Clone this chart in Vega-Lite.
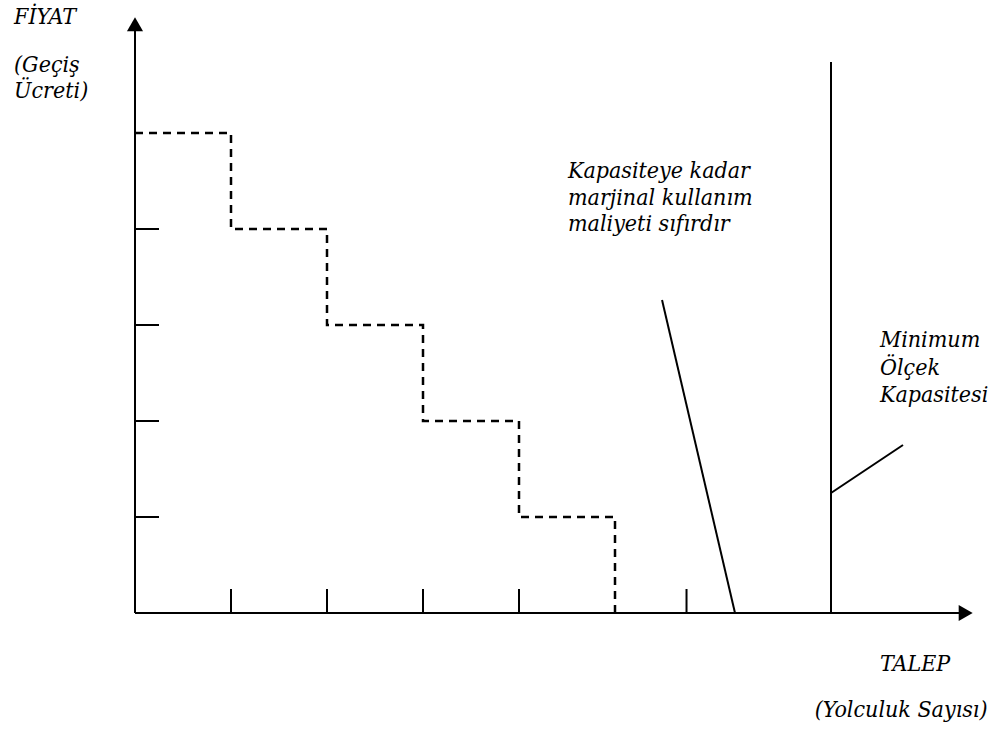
{
  "$schema": "https://vega.github.io/schema/vega-lite/v6.json",
  "width": 996,
  "height": 733,
  "autosize": {"type": "none"},
  "padding": 0,
  "background": "white",
  "config": {"view": {"stroke": null}},
  "datasets": {
    "segments": [
      {"part": "yaxis", "x": 0, "y": 0, "x2": 0, "y2": 6.09},
      {"part": "xaxis", "x": 0, "y": 0, "x2": 8.6, "y2": 0},
      {"part": "xtick", "x": 1, "y": 0, "x2": 1, "y2": 0.25},
      {"part": "xtick", "x": 2, "y": 0, "x2": 2, "y2": 0.25},
      {"part": "xtick", "x": 3, "y": 0, "x2": 3, "y2": 0.25},
      {"part": "xtick", "x": 4, "y": 0, "x2": 4, "y2": 0.25},
      {"part": "xtick", "x": 5.745, "y": 0, "x2": 5.745, "y2": 0.25},
      {"part": "ytick", "x": 0, "y": 1, "x2": 0.25, "y2": 1},
      {"part": "ytick", "x": 0, "y": 2, "x2": 0.25, "y2": 2},
      {"part": "ytick", "x": 0, "y": 3, "x2": 0.25, "y2": 3},
      {"part": "ytick", "x": 0, "y": 4, "x2": 0.25, "y2": 4},
      {"part": "diagonal", "x": 5.49, "y": 3.26, "x2": 6.25, "y2": 0},
      {"part": "capacity", "x": 7.25, "y": 0, "x2": 7.25, "y2": 5.74},
      {"part": "leader", "x": 7.25, "y": 1.25, "x2": 8.0, "y2": 1.75}
    ],
    "steps": [
      {"i": 0, "q": 0, "p": 5},
      {"i": 1, "q": 1, "p": 5},
      {"i": 2, "q": 1, "p": 4},
      {"i": 3, "q": 2, "p": 4},
      {"i": 4, "q": 2, "p": 3},
      {"i": 5, "q": 3, "p": 3},
      {"i": 6, "q": 3, "p": 2},
      {"i": 7, "q": 4, "p": 2},
      {"i": 8, "q": 4, "p": 1},
      {"i": 9, "q": 5, "p": 1},
      {"i": 10, "q": 5, "p": 0}
    ],
    "arrows": [
      {"x": 0, "y": 6.132, "shape": "triangle-up"},
      {"x": 8.653, "y": 0, "shape": "triangle-right"}
    ],
    "labels": [
      {"text": "FİYAT", "x": -1.26, "y": 6.135},
      {"text": "(Geçiş", "x": -1.26, "y": 5.635},
      {"text": "Ücreti)", "x": -1.26, "y": 5.365},
      {"text": "Kapasiteye kadar", "x": 4.51, "y": 4.531},
      {"text": "marjinal kullanım", "x": 4.51, "y": 4.255},
      {"text": "maliyeti sıfırdır", "x": 4.51, "y": 3.979},
      {"text": "Minimum", "x": 7.76, "y": 2.771},
      {"text": "Ölçek", "x": 7.76, "y": 2.484},
      {"text": "Kapasitesi", "x": 7.76, "y": 2.198},
      {"text": "TALEP", "x": 7.76, "y": -0.604},
      {"text": "(Yolculuk Sayısı)", "x": 7.08, "y": -1.083}
    ]
  },
  "layer": [
    {
      "data": {"name": "segments"},
      "mark": {"type": "rule", "color": "black", "strokeWidth": 2},
      "encoding": {
        "x": {"field": "x", "type": "quantitative", "scale": {"domain": [-1.40625, 8.96875], "nice": false, "zero": false}, "axis": null},
        "y": {"field": "y", "type": "quantitative", "scale": {"domain": [-1.25, 6.38542], "nice": false, "zero": false}, "axis": null},
        "x2": {"field": "x2"},
        "y2": {"field": "y2"}
      }
    },
    {
      "data": {"name": "steps"},
      "mark": {"type": "line", "color": "black", "strokeWidth": 2.5, "strokeDash": [8, 6], "interpolate": "linear"},
      "encoding": {
        "x": {"field": "q", "type": "quantitative", "scale": {"domain": [-1.40625, 8.96875], "nice": false, "zero": false}, "axis": null},
        "y": {"field": "p", "type": "quantitative", "scale": {"domain": [-1.25, 6.38542], "nice": false, "zero": false}, "axis": null},
        "order": {"field": "i", "type": "quantitative"}
      }
    },
    {
      "data": {"name": "arrows"},
      "mark": {"type": "point", "filled": true, "color": "black", "size": 260, "opacity": 1},
      "encoding": {
        "x": {"field": "x", "type": "quantitative", "scale": {"domain": [-1.40625, 8.96875], "nice": false, "zero": false}, "axis": null},
        "y": {"field": "y", "type": "quantitative", "scale": {"domain": [-1.25, 6.38542], "nice": false, "zero": false}, "axis": null},
        "shape": {"field": "shape", "type": "nominal", "scale": {"domain": ["triangle-up", "triangle-right"], "range": ["triangle-up", "triangle-right"]}, "legend": null}
      }
    },
    {
      "data": {"name": "labels"},
      "mark": {"type": "text", "font": "DejaVu Serif Condensed", "fontStyle": "italic", "fontSize": 23, "align": "left", "baseline": "alphabetic", "color": "black"},
      "encoding": {
        "x": {"field": "x", "type": "quantitative", "scale": {"domain": [-1.40625, 8.96875], "nice": false, "zero": false}, "axis": null},
        "y": {"field": "y", "type": "quantitative", "scale": {"domain": [-1.25, 6.38542], "nice": false, "zero": false}, "axis": null},
        "text": {"field": "text", "type": "nominal"}
      }
    }
  ]
}
